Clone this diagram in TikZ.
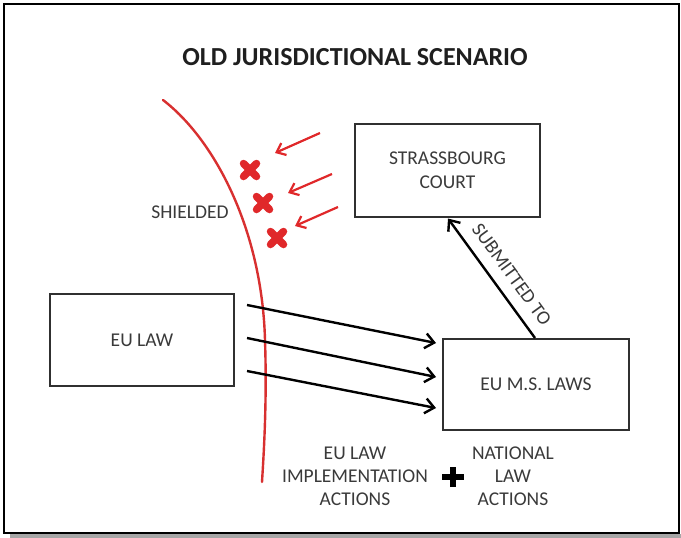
\documentclass[tikz,border=0pt]{standalone}
\usepackage{fontspec}
\setmainfont{Carlito}
\usetikzlibrary{arrows.meta}
\definecolor{txtgray}{HTML}{3A3A3A}
\definecolor{boxgray}{HTML}{303030}
\definecolor{myred}{HTML}{E0282A}
\definecolor{curvered}{HTML}{D83030}
\begin{document}
\begin{tikzpicture}[x=1pt,y=-1pt,
  box/.style={draw=boxgray, line width=2pt, align=center, text=txtgray,
    font=\fontsize{19.5}{24}\selectfont, inner sep=0pt},
  lbl/.style={align=center, text=txtgray, font=\fontsize{19.5}{23}\selectfont, inner sep=0pt},
  blackarrow/.style={line width=2.4pt, black, -{Straight Barb[length=9pt,width=15pt]}},
  redarrow/.style={line width=2.2pt, myred, -{Straight Barb[length=8pt,width=13pt]}},
  redx/.style={line width=7.5pt, myred, line cap=round},
  plusmark/.style={line width=6pt, black}
]
\useasboundingbox (0,0) rectangle (681,538);
% frame
\fill[gray!70] (10,534) rectangle (681,538);
\draw[line width=2.5pt, black] (4,4) rectangle (679,533);

% title
\node[font=\bfseries\fontsize{26}{30}\selectfont, text=black!88] (title) at (355,57) {OLD JURISDICTIONAL SCENARIO};

% boxes
\node[box, minimum width=185pt, minimum height=93pt] (court) at (447.5,170.5) {STRASSBOURG\\COURT};
\node[box, minimum width=184pt, minimum height=92pt] (eulaw) at (142,340) {EU LAW};
\node[box, minimum width=186pt, minimum height=91pt] (ms) at (536,384.5) {EU M.S. LAWS};

% red shield curve
\draw[line width=2.4pt, curvered, line cap=round] (163,100) .. controls (215,140) and (262,230) .. (265,340) .. controls (267,400) and (264,450) .. (262,482);

\node[lbl] (shielded) at (190,212) {SHIELDED};

% black arrows
\coordinate (a1s) at (247,305); \coordinate (a1e) at (436,343);
\coordinate (a2s) at (247,338); \coordinate (a2e) at (436,377);
\coordinate (a3s) at (247,371); \coordinate (a3e) at (436,408);
\draw[blackarrow] (a1s) -- (a1e);
\draw[blackarrow] (a2s) -- (a2e);
\draw[blackarrow] (a3s) -- (a3e);

% submitted to
\draw[blackarrow] (ms.north -| 535,0) -- node[pos=0.44, sloped, above=11pt, lbl] (sub) {SUBMITTED TO} (448,218.5);

% red arrows
\coordinate (r1s) at (320,133); \coordinate (r1e) at (275,153);
\coordinate (r2s) at (332,174); \coordinate (r2e) at (288,193);
\coordinate (r3s) at (338,207); \coordinate (r3e) at (295,226);
\draw[redarrow] (r1s) -- (r1e);
\draw[redarrow] (r2s) -- (r2e);
\draw[redarrow] (r3s) -- (r3e);

% red crosses
\foreach \cx/\cy in {250/170, 263/203, 277/238} {
  \draw[redx] (\cx-6.5,\cy-6.5) -- (\cx+6.5,\cy+6.5);
  \draw[redx] (\cx-6.5,\cy+6.5) -- (\cx+6.5,\cy-6.5);
}

% bottom labels
\node[lbl] (impl) at (355,476) {EU LAW\\IMPLEMENTATION\\ACTIONS};
\node[lbl] (nat) at (513,476) {NATIONAL\\LAW\\ACTIONS};
\coordinate (plus) at (453,477);
\draw[plusmark] ([xshift=-11pt]plus) -- ([xshift=11pt]plus);
\draw[plusmark] ([yshift=-10pt]plus) -- ([yshift=10pt]plus);
\end{tikzpicture}
\end{document}
